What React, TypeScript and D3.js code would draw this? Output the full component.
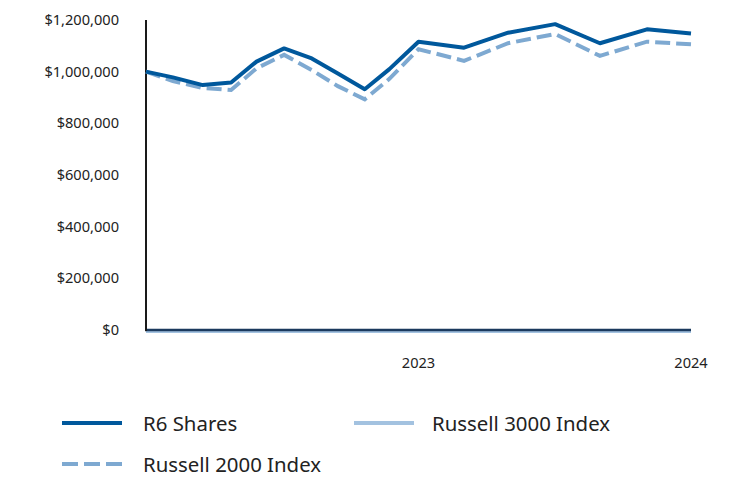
import React from "react";
import * as d3 from "d3";

const dates = [
  "2022-01-01", "2022-02-06", "2022-03-18", "2022-04-25", "2022-05-29", "2022-07-05",
  "2022-08-11", "2022-09-15", "2022-10-21", "2022-11-23", "2023-01-01", "2023-03-03",
  "2023-05-01", "2023-07-03", "2023-09-01", "2023-11-03", "2024-01-01",
];
const r6Shares = [
  1000000, 978000, 948000, 958000, 1039000, 1090000, 1051000, 993000, 932000,
  1010000, 1116000, 1093000, 1151000, 1184000, 1110000, 1164000, 1148000,
];
const russell2000 = [
  1000000, 964000, 937000, 929000, 1013000, 1065000, 1006000, 944000, 893000,
  972000, 1087000, 1042000, 1110000, 1146000, 1061000, 1116000, 1106000,
];
const russell3000 = [0, 0, 0, 0, 0, 0, 0, 0, 0, 0, 0, 0, 0, 0, 0, 0, 0];
const yTicks = [0, 200000, 400000, 600000, 800000, 1000000, 1200000];
const xTickLabels = ["2023", "2024"];

const FONT = "'Noto Sans', 'Open Sans', sans-serif";

export default function App() {
  const W = 732, H = 480;
  const parse = d3.timeParse("%Y-%m-%d");
  const xd = dates.map((d) => parse(d) as Date);
  const x = d3.scaleTime().domain([xd[0], xd[xd.length - 1]]).range([146, 691]);
  const y = d3.scaleLinear().domain([0, 1200000]).range([330, 20]);
  const line = d3.line<number>().x((_, i) => x(xd[i])).y((v) => y(v));
  const fmt = (v: number) => "$" + d3.format(",")(v);

  const C_R6 = "#00589c";
  const C_R2 = "#7ea9d1";
  const C_R3 = "#a3c2e0";

  return (
    <div style={{ position: "fixed", left: 0, top: 0 }}>
      <svg width={W} height={H} style={{ display: "block", background: "#fff" }}>
        {yTicks.map((t) => (
          <text key={t} x={119} y={y(t)} dy="0.35em" textAnchor="end" fontFamily={FONT} fontSize={14.6} fill="#222">
            {fmt(t)}
          </text>
        ))}
        {xTickLabels.map((l) => (
          <text key={l} x={x(parse(l + "-01-01") as Date)} y={368} textAnchor="middle" fontFamily={FONT} fontSize={14.6} fill="#222">
            {l}
          </text>
        ))}
        <path d={line(russell3000) || ""} fill="none" stroke={C_R3} strokeWidth={3} transform="translate(0,1.5)" />
        <line x1={145} x2={691} y1={330} y2={330} stroke="#1b3a5e" strokeWidth={2.5} />
        <line x1={146} x2={146} y1={20} y2={331} stroke="#1a1a1a" strokeWidth={2} />
        <path d={line(russell2000) || ""} fill="none" stroke={C_R2} strokeWidth={4} strokeDasharray="15 6" />
        <path d={line(r6Shares) || ""} fill="none" stroke={C_R6} strokeWidth={4} strokeLinejoin="round" />

        <line x1={62} x2={122} y1={423} y2={423} stroke={C_R6} strokeWidth={4} />
        <text x={143} y={431} fontFamily={FONT} fontSize={20.4} fill="#222">R6 Shares</text>
        <line x1={354} x2={414} y1={423} y2={423} stroke={C_R3} strokeWidth={4} />
        <text x={432} y={431} fontFamily={FONT} fontSize={20.4} fill="#222">Russell 3000 Index</text>
        <line x1={62} x2={122} y1={464} y2={464} stroke={C_R2} strokeWidth={4} strokeDasharray="16 6" />
        <text x={143} y={472} fontFamily={FONT} fontSize={20.4} fill="#222">Russell 2000 Index</text>
      </svg>
    </div>
  );
}
